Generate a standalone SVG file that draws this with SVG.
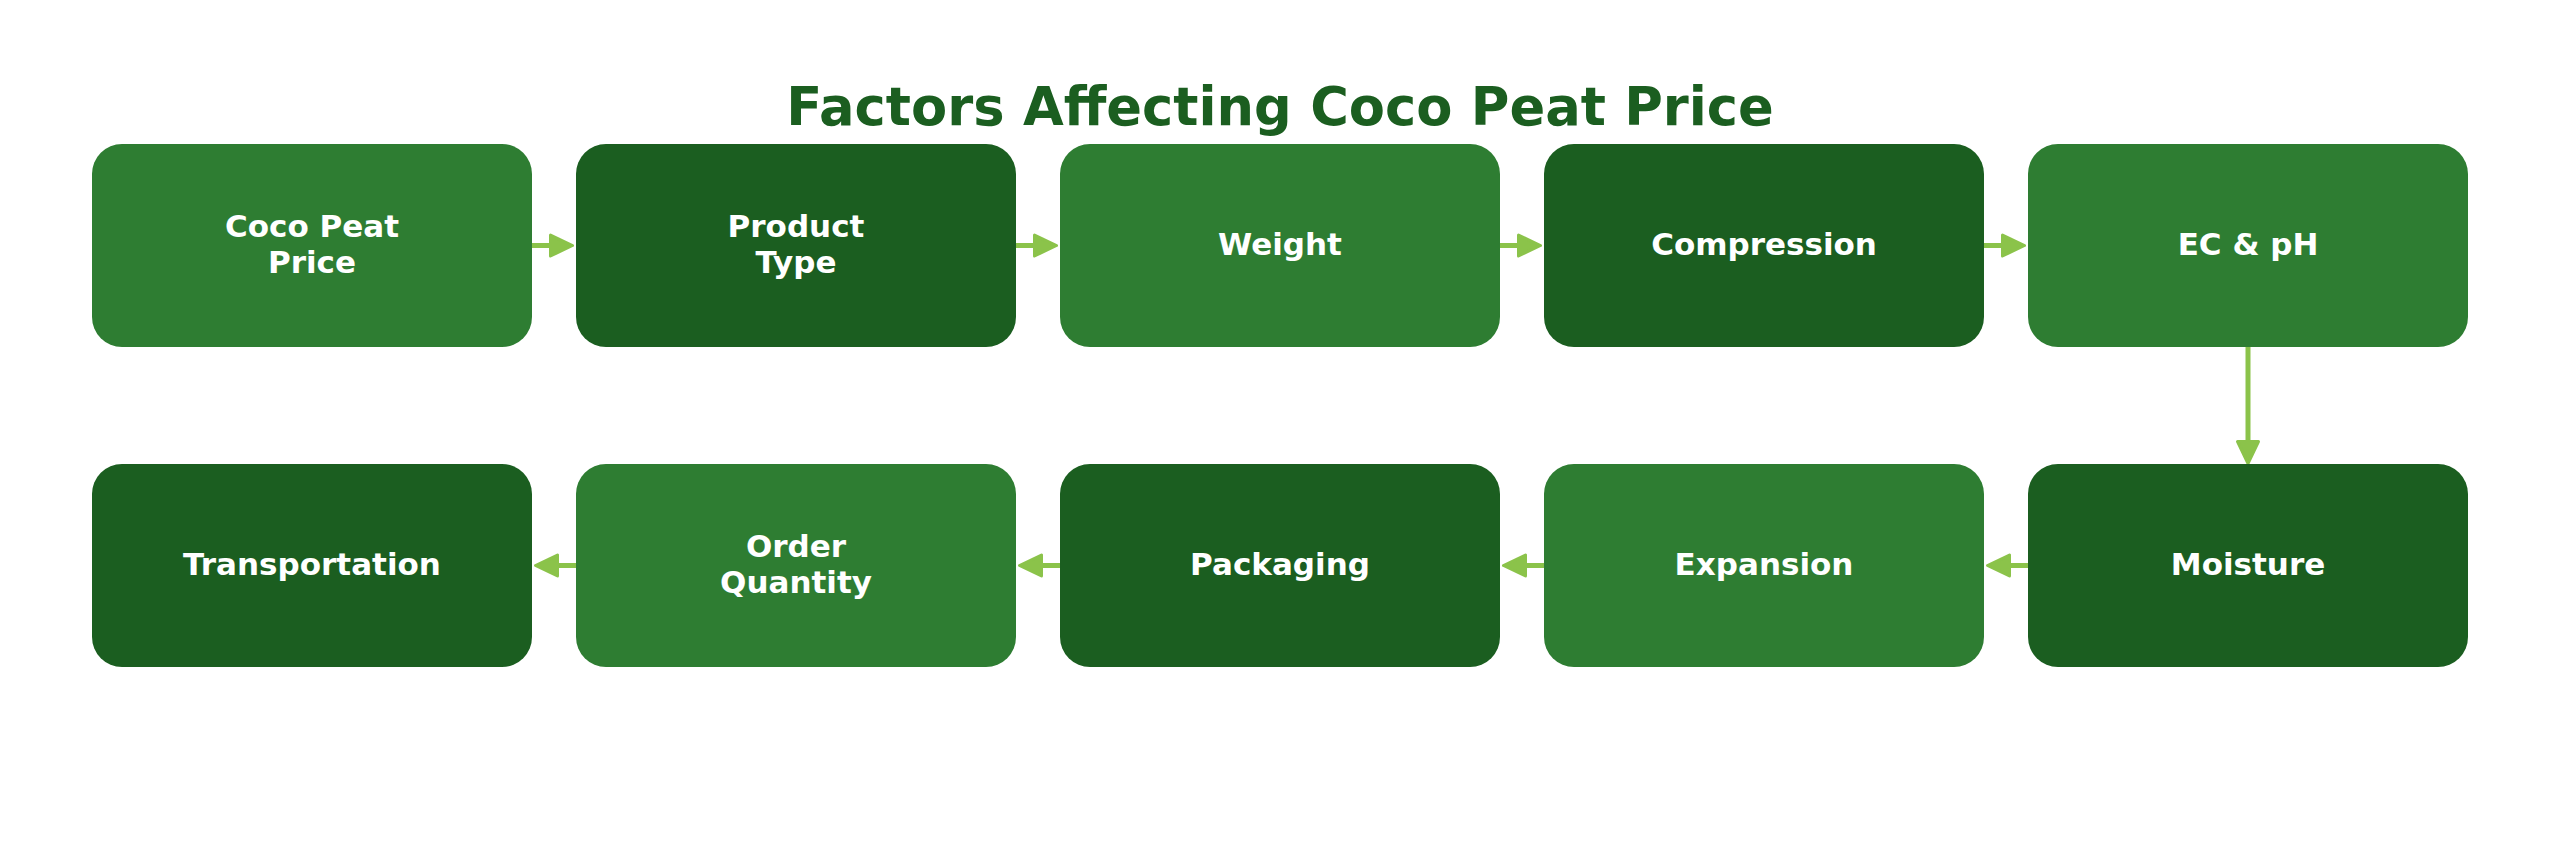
<svg xmlns="http://www.w3.org/2000/svg" width="2560" height="862" viewBox="0 0 2560 862">
<style>
.bg{fill:#FFFFFF}
.light{fill:#2E7D32}
.dark{fill:#1B5E20}
.lbl{font-family:"DejaVu Sans",Verdana,sans-serif;font-weight:bold;font-size:31px;fill:#FFFFFF;text-anchor:middle}
.title{font-family:"DejaVu Sans",Verdana,sans-serif;font-weight:bold;font-size:52.7px;fill:#1B5E20;text-anchor:middle}
.conn{stroke:#8BC34A;stroke-width:5;stroke-linecap:round;fill:none}
</style>
<defs>
<marker id="ah" markerUnits="userSpaceOnUse" markerWidth="30" markerHeight="30" viewBox="-2 -2 30 28" refX="2" refY="12" orient="auto">
<path d="M1.5,1.5 L23.5,12 L1.5,22.5 Z" fill="#8BC34A" stroke="#8BC34A" stroke-width="3" stroke-linejoin="round"/>
</marker>
</defs>
<rect class="bg" x="0" y="0" width="2560" height="862"/>
<text class="title" x="1280" y="125">Factors Affecting Coco Peat Price</text>
<g id="connectors">
<line class="conn" x1="529" y1="245.5" x2="551" y2="245.5" marker-end="url(#ah)"/>
<line class="conn" x1="1013" y1="245.5" x2="1035" y2="245.5" marker-end="url(#ah)"/>
<line class="conn" x1="1497" y1="245.5" x2="1519" y2="245.5" marker-end="url(#ah)"/>
<line class="conn" x1="1981" y1="245.5" x2="2003" y2="245.5" marker-end="url(#ah)"/>
<line class="conn" x1="2248" y1="341" x2="2248" y2="442" marker-end="url(#ah)"/>
<line class="conn" x1="2031" y1="565.5" x2="2009" y2="565.5" marker-end="url(#ah)"/>
<line class="conn" x1="1547" y1="565.5" x2="1525" y2="565.5" marker-end="url(#ah)"/>
<line class="conn" x1="1063" y1="565.5" x2="1041" y2="565.5" marker-end="url(#ah)"/>
<line class="conn" x1="579" y1="565.5" x2="557" y2="565.5" marker-end="url(#ah)"/>
</g>
<g id="node-coco-peat-price">
<rect class="light" x="92" y="144" width="440" height="203" rx="30" ry="30"/>
<text class="lbl" x="312" y="236.5">Coco Peat</text>
<text class="lbl" x="312" y="272.5">Price</text>
</g>
<g id="node-product-type">
<rect class="dark" x="576" y="144" width="440" height="203" rx="30" ry="30"/>
<text class="lbl" x="796" y="236.5">Product</text>
<text class="lbl" x="796" y="272.5">Type</text>
</g>
<g id="node-weight">
<rect class="light" x="1060" y="144" width="440" height="203" rx="30" ry="30"/>
<text class="lbl" x="1280" y="254.5">Weight</text>
</g>
<g id="node-compression">
<rect class="dark" x="1544" y="144" width="440" height="203" rx="30" ry="30"/>
<text class="lbl" x="1764" y="254.5">Compression</text>
</g>
<g id="node-ec-ph">
<rect class="light" x="2028" y="144" width="440" height="203" rx="30" ry="30"/>
<text class="lbl" x="2248" y="254.5">EC &amp; pH</text>
</g>
<g id="node-moisture">
<rect class="dark" x="2028" y="464" width="440" height="203" rx="30" ry="30"/>
<text class="lbl" x="2248" y="574.5">Moisture</text>
</g>
<g id="node-expansion">
<rect class="light" x="1544" y="464" width="440" height="203" rx="30" ry="30"/>
<text class="lbl" x="1764" y="574.5">Expansion</text>
</g>
<g id="node-packaging">
<rect class="dark" x="1060" y="464" width="440" height="203" rx="30" ry="30"/>
<text class="lbl" x="1280" y="574.5">Packaging</text>
</g>
<g id="node-order-quantity">
<rect class="light" x="576" y="464" width="440" height="203" rx="30" ry="30"/>
<text class="lbl" x="796" y="556.5">Order</text>
<text class="lbl" x="796" y="592.5">Quantity</text>
</g>
<g id="node-transportation">
<rect class="dark" x="92" y="464" width="440" height="203" rx="30" ry="30"/>
<text class="lbl" x="312" y="574.5">Transportation</text>
</g>
</svg>
